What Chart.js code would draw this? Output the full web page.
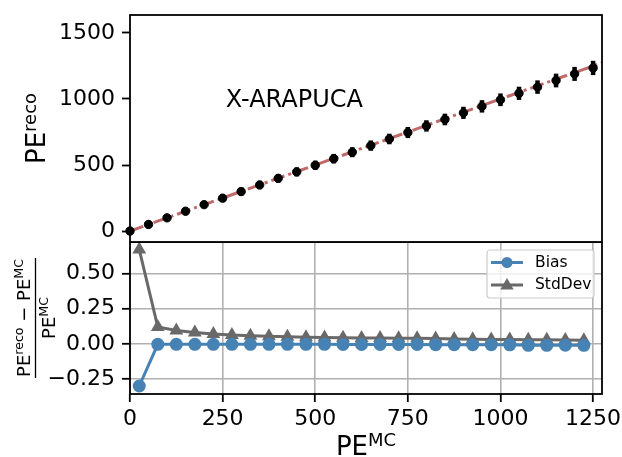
<!DOCTYPE html>
<html>
<head>
<meta charset="utf-8">
<script src="https://cdn.jsdelivr.net/npm/chart.js@4.4.0/dist/chart.umd.min.js"></script>
<style>
  html, body { margin: 0; padding: 0; background: #fff; }
  #wrap { position: relative; width: 622px; height: 457px; }
  #wrap canvas { position: absolute; left: 0; }
  #topChart { top: 0; }
  #bottomChart { top: 242px; }
</style>
</head>
<body>
<div id="wrap">
  <canvas id="topChart" width="622" height="243"></canvas>
  <canvas id="bottomChart" width="622" height="215"></canvas>
</div>
<script>
// Values
const peTrue = [0, 50, 100, 150, 200, 250, 300, 350, 400, 450, 500, 550, 600,
                650, 700, 750, 800, 850, 900, 950, 1000, 1050, 1100, 1150, 1200, 1250];
const peReco = [0, 50, 100, 150, 200, 249, 299, 349, 399, 448, 498, 548, 597,
                647, 697, 746, 796, 845, 895, 944, 994, 1043, 1090, 1140, 1190, 1235];
const peRecoErr = [0, 20, 22, 24, 26, 28, 30, 31, 32, 34, 35, 36, 38,
                   39, 40, 42, 43, 44, 46, 47, 48, 50, 51, 52, 53, 54];
const diagonalX = [0, 1275];
const diagonalY = [0, 1275];

const binCenters = [25, 75, 125, 175, 225, 275, 325, 375, 425, 475, 525, 575, 625,
                    675, 725, 775, 825, 875, 925, 975, 1025, 1075, 1125, 1175, 1225];
const biasValues = [-0.30, -0.004, -0.004, -0.004, -0.004, -0.004, -0.004, -0.004, -0.004,
                    -0.004, -0.004, -0.005, -0.005, -0.005, -0.005, -0.005, -0.006, -0.006,
                    -0.006, -0.006, -0.007, -0.011, -0.011, -0.010, -0.011];
const stdDevValues = [0.67, 0.12, 0.095, 0.08, 0.07, 0.062, 0.057, 0.053, 0.05, 0.047,
                      0.045, 0.043, 0.042, 0.041, 0.040, 0.039, 0.037, 0.034, 0.032,
                      0.031, 0.030, 0.029, 0.028, 0.027, 0.025];

const xTicks = [0, 250, 500, 750, 1000, 1250];
const topYTicks = [0, 500, 1000, 1500];
const bottomYTicks = [-0.25, 0, 0.25, 0.5];

Chart.defaults.font.family = '"DejaVu Sans", sans-serif';
Chart.defaults.font.size = 22;
Chart.defaults.color = '#000';

const FONT = '"DejaVu Sans", sans-serif';

// draws text made of pieces, some of them raised (superscripts)
function drawSupText(ctx, parts, cx, cy, rotate) {
    ctx.save();
    ctx.translate(cx, cy);
    if (rotate) ctx.rotate(-Math.PI / 2);
    ctx.fillStyle = '#000';
    ctx.textAlign = 'left';
    ctx.textBaseline = 'alphabetic';
    let total = 0;
    parts.forEach(p => {
        ctx.font = p.size + 'px ' + FONT;
        p.w = ctx.measureText(p.text).width;
        total += p.w;
    });
    let x = -total / 2;
    parts.forEach(p => {
        ctx.font = p.size + 'px ' + FONT;
        ctx.fillText(p.text, x, -(p.rise || 0));
        x += p.w;
    });
    ctx.restore();
}

const framePlugin = {
    id: 'frame',
    afterDraw(chart) {
        const { ctx, chartArea: a } = chart;
        ctx.save();
        ctx.strokeStyle = '#000';
        ctx.lineWidth = 1.8;
        ctx.strokeRect(a.left, a.top, a.right - a.left, a.bottom - a.top);
        ctx.restore();
    }
};

const errorBarPlugin = {
    id: 'errorBars',
    afterDatasetsDraw(chart) {
        const { ctx } = chart;
        const xs = chart.scales.x, ys = chart.scales.y;
        ctx.save();
        ctx.strokeStyle = '#000';
        ctx.lineWidth = 4.5;
        peTrue.forEach((x, i) => {
            const px = xs.getPixelForValue(x);
            ctx.beginPath();
            ctx.moveTo(px, ys.getPixelForValue(peReco[i] - peRecoErr[i]));
            ctx.lineTo(px, ys.getPixelForValue(peReco[i] + peRecoErr[i]));
            ctx.stroke();
        });
        ctx.restore();
    }
};

const topLabels = {
    id: 'topLabels',
    afterDraw(chart) {
        const { ctx, chartArea: a } = chart;
        ctx.save();
        ctx.fillStyle = '#000';
        ctx.font = '24px ' + FONT;
        ctx.textBaseline = 'alphabetic';
        ctx.fillText('X-ARAPUCA', a.left + 0.203 * (a.right - a.left), a.top + 0.405 * (a.bottom - a.top));
        ctx.restore();
        drawSupText(ctx, [
            { text: 'PE', size: 26 },
            { text: 'reco', size: 18, rise: 9 }
        ], 45, (a.top + a.bottom) / 2, true);
    }
};

const bottomLabels = {
    id: 'bottomLabels',
    afterDraw(chart) {
        const { ctx, chartArea: a } = chart;
        const cy = (a.top + a.bottom) / 2;
        drawSupText(ctx, [
            { text: 'PE', size: 26 },
            { text: 'MC', size: 18, rise: 9 }
        ], (a.left + a.right) / 2, 213, false);
        // fraction label on the left
        drawSupText(ctx, [
            { text: 'PE', size: 18 },
            { text: 'reco', size: 12.6, rise: 7 },
            { text: ' \u2212 ', size: 18 },
            { text: 'PE', size: 18 },
            { text: 'MC', size: 12.6, rise: 7 }
        ], 30, cy, true);
        ctx.save();
        ctx.strokeStyle = '#000';
        ctx.lineWidth = 1.3;
        ctx.beginPath();
        ctx.moveTo(35.5, cy - 60);
        ctx.lineTo(35.5, cy + 60);
        ctx.stroke();
        ctx.restore();
        drawSupText(ctx, [
            { text: 'PE', size: 18 },
            { text: 'MC', size: 12.6, rise: 7 }
        ], 55, cy, true);
    }
};

function drawMarker(ctx, style, x, y, r, color) {
    ctx.fillStyle = color;
    ctx.beginPath();
    if (style === 'triangle') {
        ctx.moveTo(x, y - r);
        ctx.lineTo(x + r * 0.95, y + r * 0.65);
        ctx.lineTo(x - r * 0.95, y + r * 0.65);
        ctx.closePath();
    } else {
        ctx.arc(x, y, r, 0, Math.PI * 2);
    }
    ctx.fill();
}

const legendBox = {
    id: 'legendBox',
    afterDatasetsDraw(chart) {
        const { ctx, chartArea: a } = chart;
        const w = 107, h = 48;
        const x0 = a.right - 8 - w, y0 = a.top + 8;
        ctx.save();
        ctx.fillStyle = 'rgba(255,255,255,0.8)';
        ctx.strokeStyle = '#cccccc';
        ctx.lineWidth = 1.2;
        ctx.beginPath();
        ctx.roundRect(x0, y0, w, h, 3);
        ctx.fill();
        ctx.stroke();
        chart.data.datasets.forEach((ds, i) => {
            const y = y0 + 12.5 + i * 22.5;
            ctx.strokeStyle = ds.borderColor;
            ctx.lineWidth = 3;
            ctx.beginPath();
            ctx.moveTo(x0 + 4, y);
            ctx.lineTo(x0 + 36, y);
            ctx.stroke();
            drawMarker(ctx, ds.pointStyle, x0 + 20, y, ds.pointStyle === 'triangle' ? 7 : 5.5, ds.backgroundColor);
            ctx.fillStyle = '#000';
            ctx.font = '15.5px ' + FONT;
            ctx.textBaseline = 'middle';
            ctx.fillText(ds.label, x0 + 48, y);
        });
        ctx.restore();
    }
};

function fixedTicks(list) {
    return scale => { scale.ticks = list.map(v => ({ value: v })); };
}

// keep Chart.js from reserving room for half tick labels at the ends
function fixWidth(w) {
    return s => { s.width = w; s.paddingTop = 0; s.paddingBottom = 0; };
}
function fixHeight(h) {
    return s => { s.height = h; s.paddingLeft = 0; s.paddingRight = 0; };
}

// Top panel: reconstructed vs true PE
new Chart(document.getElementById('topChart'), {
    type: 'line',
    data: {
        datasets: [{
            label: 'PE',
            data: peTrue.map((x, i) => ({ x: x, y: peReco[i] })),
            showLine: false,
            pointRadius: 4.2,
            pointBackgroundColor: '#000',
            pointBorderColor: '#000',
            clip: false,
            order: 0
        }, {
            label: 'diagonal',
            data: diagonalX.map((x, i) => ({ x: x, y: diagonalY[i] })),
            borderColor: 'rgba(165,42,42,0.7)',
            borderWidth: 3,
            borderDash: [14, 4, 3, 4],
            pointRadius: 0,
            order: 1
        }]
    },
    options: {
        responsive: false,
        maintainAspectRatio: false,
        animation: false,
        devicePixelRatio: 1,
        layout: { autoPadding: false, padding: { top: 15, right: 20, bottom: 1, left: 0 } },
        plugins: { legend: { display: false }, tooltip: { enabled: false } },
        scales: {
            x: { type: 'linear', display: false, min: 0, max: 1274 },
            y: {
                type: 'linear', min: -83, max: 1636,
                afterBuildTicks: fixedTicks(topYTicks),
                afterFit: fixWidth(130),
                border: { display: false },
                grid: { drawOnChartArea: false, tickLength: 8, tickColor: '#000', tickWidth: 1.8 },
                ticks: { padding: 7, color: '#000', font: { size: 22 }, callback: v => String(v) }
            }
        }
    },
    plugins: [errorBarPlugin, framePlugin, topLabels]
});

// Bottom panel: relative bias and standard deviation
new Chart(document.getElementById('bottomChart'), {
    type: 'line',
    data: {
        datasets: [{
            label: 'Bias',
            data: binCenters.map((x, i) => ({ x: x, y: biasValues[i] })),
            borderColor: '#4682b4',
            backgroundColor: '#4682b4',
            borderWidth: 3,
            pointStyle: 'circle',
            pointRadius: 6.5,
            pointBorderWidth: 0,
            order: 0
        }, {
            label: 'StdDev',
            data: binCenters.map((x, i) => ({ x: x, y: stdDevValues[i] })),
            borderColor: '#696969',
            backgroundColor: '#696969',
            borderWidth: 3,
            pointStyle: 'triangle',
            pointRadius: 8,
            pointBorderWidth: 0,
            order: 1
        }]
    },
    options: {
        responsive: false,
        maintainAspectRatio: false,
        animation: false,
        devicePixelRatio: 1,
        layout: { autoPadding: false, padding: { top: 0, right: 20, bottom: 0, left: 0 } },
        plugins: { legend: { display: false }, tooltip: { enabled: false } },
        scales: {
            x: {
                type: 'linear', min: 0, max: 1274,
                afterBuildTicks: fixedTicks(xTicks),
                afterFit: fixHeight(63),
                border: { display: false },
                grid: { color: '#b0b0b0', lineWidth: 1.6, tickLength: 8, tickColor: '#000', tickWidth: 1.8 },
                ticks: { padding: 4, color: '#000', font: { size: 22 }, maxRotation: 0, autoSkip: false,
                         callback: v => String(v) }
            },
            y: {
                type: 'linear', min: -0.357, max: 0.724,
                afterBuildTicks: fixedTicks(bottomYTicks),
                afterFit: fixWidth(130),
                border: { display: false },
                grid: { color: '#b0b0b0', lineWidth: 1.6, tickLength: 8, tickColor: '#000', tickWidth: 1.8 },
                ticks: { padding: 7, color: '#000', font: { size: 22 },
                         callback: v => v.toFixed(2).replace('-', '\u2212') }
            }
        }
    },
    plugins: [framePlugin, legendBox, bottomLabels]
});
</script>
</body>
</html>
